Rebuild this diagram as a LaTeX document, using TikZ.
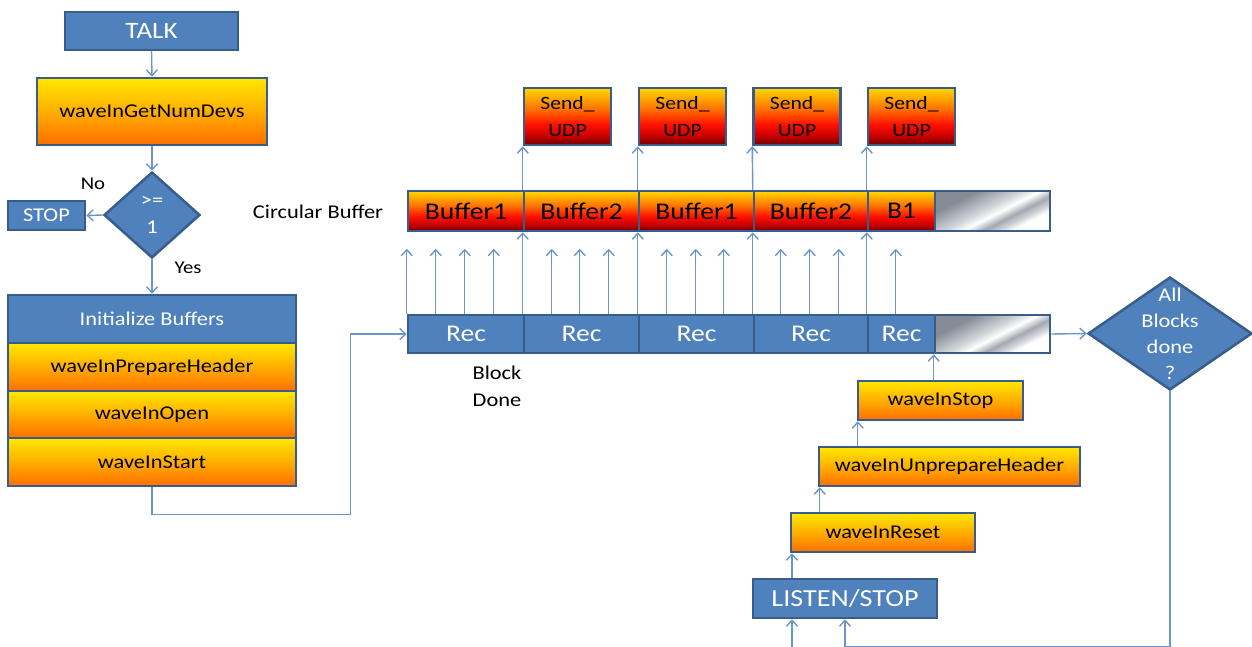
\documentclass[tikz,border=0pt]{standalone}
\usepackage{fontspec}
\setmainfont{Carlito}[FakeStretch=1.15]
\usetikzlibrary{arrows.meta,shapes.geometric}

\definecolor{boxblue}{HTML}{4F81BD}
\definecolor{edgeblue}{HTML}{385D8A}
\definecolor{wireblue}{HTML}{6A96CC}
\definecolor{oy}{HTML}{FFE800}
\definecolor{om}{HTML}{FFAE00}
\definecolor{ob}{HTML}{FF6E00}
\definecolor{hy}{HTML}{FFD800}
\definecolor{ho}{HTML}{FF7400}
\definecolor{hr}{HTML}{FF1000}
\definecolor{hx}{HTML}{C80000}
\definecolor{hd}{HTML}{6E0000}
\definecolor{ga}{HTML}{868C96}
\definecolor{gb}{HTML}{D4D7DC}
\definecolor{gc}{HTML}{A3A8B1}

\pgfdeclareverticalshading{orangebar}{100bp}{color(0bp)=(ob); color(25bp)=(ob); color(50bp)=(om); color(75bp)=(oy); color(100bp)=(oy)}
\pgfdeclareverticalshading{hotbar}{100bp}{color(0bp)=(hd); color(25bp)=(hd); color(33bp)=(hx); color(43bp)=(hr); color(57bp)=(ho); color(75bp)=(hy); color(100bp)=(hy)}
\pgfdeclarehorizontalshading{silverbar}{100bp}{color(0bp)=(ga); color(31bp)=(ga); color(47bp)=(gb); color(53bp)=(white); color(60bp)=(gc); color(66bp)=(gb); color(70bp)=(white); color(100bp)=(white)}

\tikzset{
  every node/.style={font=\fontsize{19.5}{27}\selectfont},
  sz/.style 2 args={minimum width=#1, minimum height=#2},
  boxbase/.style={draw=edgeblue, line width=2.5pt, inner sep=0pt, align=center},
  bluebox/.style={boxbase, fill=boxblue, text=white},
  orangebox/.style={boxbase, shade, shading=orangebar, text=black},
  hotbox/.style={boxbase, shade, shading=hotbar, text=black},
  silverbox/.style={boxbase, shade, shading=silverbar, shading angle=-63},
  wire/.style={draw=wireblue, line width=1.4pt},
  arr/.style={wire, -{Straight Barb[length=6pt,width=11pt]}},
  big/.style={font=\fontsize{24}{27}\selectfont},
  sendtext/.style={font=\fontsize{18.8}{27}\selectfont},
}

\begin{document}
\begin{tikzpicture}[x=1pt, y=-1pt]
\useasboundingbox (0,0) rectangle (1252,647);

% ---- start-up column ----
\node[bluebox, sz={173pt}{38pt}, font=\fontsize{23.5}{27}\selectfont] (talk) at (151.5,31) {TALK};
\node[orangebox, sz={230pt}{67pt}] (getnum) at (152,111.5) {waveInGetNumDevs};
\node[bluebox, diamond, sz={96pt}{86pt}] (dec) at (152,215) {>=\\1};
\node[bluebox, sz={77pt}{29pt}] (stop) at (46.5,215.5) {STOP};
\node[font=\fontsize{18}{20}\selectfont] (no) at (93,184) {No};
\node[font=\fontsize{18}{20}\selectfont] (yes) at (188,268) {Yes};

\node[bluebox, sz={288pt}{48pt}] (init) at (152,319) {Initialize Buffers};
\node[orangebox, sz={288pt}{48pt}] (prep) at (152,367) {waveInPrepareHeader};
\node[orangebox, sz={288pt}{47pt}] (open) at (152,414.5) {waveInOpen};
\node[orangebox, sz={288pt}{48pt}] (start) at (152,462) {waveInStart};

% ---- circular buffer ----
\node (cblabel) at (318,212) {Circular Buffer};
\node[hotbox, sz={116pt}{40pt}, big] (buf1) at (466,211) {Buffer1};
\node[hotbox, sz={115pt}{40pt}, big] (buf2) at (581.5,211) {Buffer2};
\node[hotbox, sz={115pt}{40pt}, big] (buf3) at (696.5,211) {Buffer1};
\node[hotbox, sz={114pt}{40pt}, big] (buf4) at (811,211) {Buffer2};
\node[hotbox, sz={67pt}{40pt}, big] (buf5) at (901.5,211) {B1};
\node[silverbox, sz={115pt}{40pt}] (bufg) at (992.5,211) {};

% ---- UDP senders ----
\node[hotbox, sz={87pt}{57pt}, sendtext] (send1) at (567.5,116.5) {Send\_\\UDP};
\node[hotbox, sz={87pt}{57pt}, sendtext] (send2) at (682.5,116.5) {Send\_\\UDP};
\node[hotbox, sz={87pt}{57pt}, sendtext] (send3) at (797,116.5) {Send\_\\UDP};
\node[hotbox, sz={87pt}{57pt}, sendtext] (send4) at (911.5,116.5) {Send\_\\UDP};

% ---- recording blocks ----
\node[bluebox, sz={116pt}{38pt}, big] (rec1) at (466,334) {Rec};
\node[bluebox, sz={115pt}{38pt}, big] (rec2) at (581.5,334) {Rec};
\node[bluebox, sz={115pt}{38pt}, big] (rec3) at (696.5,334) {Rec};
\node[bluebox, sz={114pt}{38pt}, big] (rec4) at (811,334) {Rec};
\node[bluebox, sz={67pt}{38pt}, big] (rec5) at (901.5,334) {Rec};
\node[silverbox, sz={115pt}{38pt}] (recg) at (992.5,334) {};
\node[align=center] (blockdone) at (497,386) {Block\\Done};

% ---- completion test ----
\node[bluebox, diamond, sz={164pt}{113pt}] (done) at (1170,333.5) {};
\node[text=white, align=center, font=\fontsize{19.5}{26}\selectfont] (donetext) at (1170,334) {All\\Blocks\\done\\?};

% ---- shutdown column ----
\node[bluebox, sz={184pt}{39pt}, font=\fontsize{24.5}{27}\selectfont] (listen) at (845,598.5) {LISTEN/STOP};
\node[orangebox, sz={184pt}{39pt}] (reset) at (883,532.5) {waveInReset};
\node[orangebox, sz={261pt}{39pt}] (unprep) at (949.5,466.5) {waveInUnprepareHeader};
\node[orangebox, sz={165pt}{39pt}] (stop2) at (940.5,400.5) {waveInStop};

% ---- connectors ----
\draw[arr] (talk.south) -- (getnum.north);
\draw[arr] (getnum.south) -- (dec.north);
\draw[arr] (dec.west) -- (stop.east);
\draw[arr] (dec.south) -- (init.north);
\draw[arr] (start.south) -- ++(0,27) -| ([xshift=-56pt]rec1.west) -- (rec1.west);

\foreach \r/\dx in {rec1/0, rec1/29, rec1/58, rec1/87, rec2/29, rec2/57, rec2/86,
                    rec3/29, rec3/58, rec3/86, rec4/28, rec4/57, rec4/86, rec5/29}
  \draw[arr] ([xshift=\dx pt]\r.north west) -- ++(0,-65);

\foreach \i/\j in {2/1, 3/2, 4/3, 5/4} {
  \draw[arr] (rec\i.north west) -- (buf\i.south west);
  \draw[arr] (buf\i.north west) -- (send\j.south west);
}

\draw[arr] (recg.east) -- (done.west);
\draw[arr] (done.south) -- ++(0,255) -| (listen.south);

\coordinate (feed) at (792,647);
\coordinate (u1) at ([xshift=2pt]unprep.south west);
\coordinate (s1) at ([xshift=1pt]stop2.south west);
\draw[arr] (feed) -- (listen.south -| feed);
\draw[arr] (listen.north -| feed) -- (reset.south -| feed);
\draw[arr] (reset.north -| u1) -- (u1);
\draw[arr] (unprep.north -| s1) -- (s1);
\draw[arr] (stop2.north -| recg.south west) -- (recg.south west);
\end{tikzpicture}
\end{document}
